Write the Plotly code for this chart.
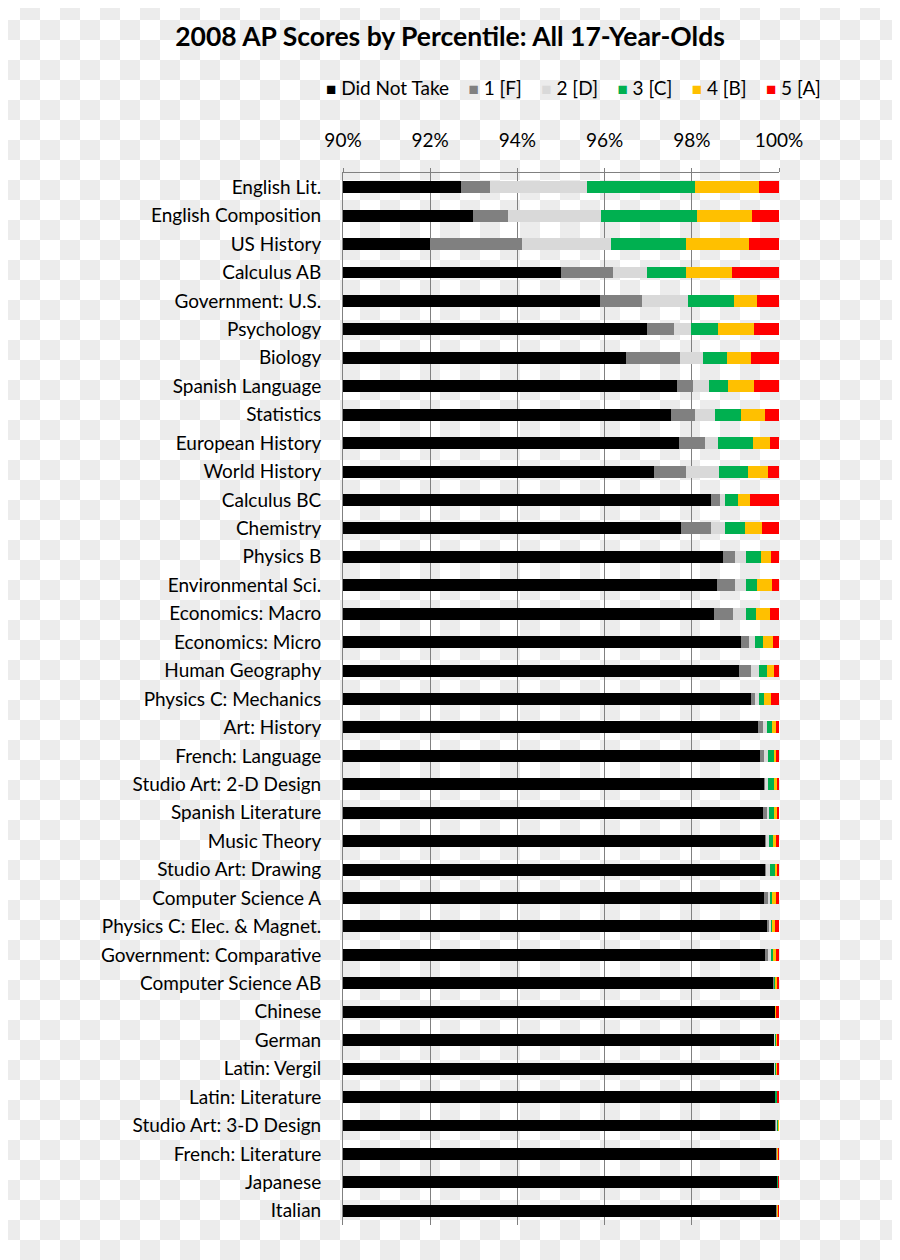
import base64
import plotly.graph_objects as go

subjects = ["English Lit.", "English Composition", "US History", "Calculus AB", "Government: U.S.",
            "Psychology", "Biology", "Spanish Language", "Statistics", "European History",
            "World History", "Calculus BC", "Chemistry", "Physics B", "Environmental Sci.",
            "Economics: Macro", "Economics: Micro", "Human Geography", "Physics C: Mechanics",
            "Art: History", "French: Language", "Studio Art: 2-D Design", "Spanish Literature",
            "Music Theory", "Studio Art: Drawing", "Computer Science A",
            "Physics C: Elec. & Magnet.", "Government: Comparative", "Computer Science AB",
            "Chinese", "German", "Latin: Vergil", "Latin: Literature", "Studio Art: 3-D Design",
            "French: Literature", "Japanese", "Italian"]

did_not_take = [92.70, 92.98, 91.99, 95.00, 95.90, 96.98, 96.49, 97.66, 97.53, 97.71,
                97.14, 98.45, 97.76, 98.72, 98.58, 98.51, 99.13, 99.09, 99.36,
                99.52, 99.57, 99.66, 99.63, 99.68, 99.68, 99.66,
                99.73, 99.68, 99.88, 99.91, 99.89, 99.89, 99.91, 99.93,
                99.95, 99.97, 99.95]
score_1 = [0.67, 0.80, 2.11, 1.19, 0.96, 0.62, 1.24, 0.37, 0.55, 0.60,
           0.73, 0.20, 0.69, 0.28, 0.42, 0.44, 0.19, 0.27, 0.09,
           0.11, 0.09, 0.01, 0.10, 0.03, 0.02, 0.11,
           0.04, 0.07, 0.01, 0.005, 0.01, 0.01, 0.005, 0.02,
           0.005, 0.002, 0.005]
score_2 = [2.23, 2.14, 2.05, 0.79, 1.06, 0.39, 0.53, 0.37, 0.46, 0.30,
           0.76, 0.12, 0.32, 0.25, 0.25, 0.30, 0.13, 0.18, 0.09,
           0.10, 0.09, 0.08, 0.04, 0.06, 0.09, 0.02,
           0.05, 0.07, 0.01, 0.005, 0.02, 0.02, 0.01, 0.01,
           0.005, 0.002, 0.005]
score_3 = [2.48, 2.20, 1.72, 0.89, 1.05, 0.62, 0.55, 0.44, 0.59, 0.80,
           0.67, 0.30, 0.46, 0.34, 0.25, 0.23, 0.18, 0.19, 0.12,
           0.11, 0.14, 0.14, 0.12, 0.09, 0.12, 0.05,
           0.02, 0.04, 0.03, 0.01, 0.03, 0.03, 0.03, 0.02,
           0.01, 0.003, 0.01]
score_4 = [1.45, 1.27, 1.45, 1.06, 0.53, 0.82, 0.55, 0.59, 0.56, 0.39,
           0.45, 0.27, 0.39, 0.23, 0.35, 0.32, 0.23, 0.16, 0.16,
           0.09, 0.04, 0.06, 0.06, 0.07, 0.04, 0.09,
           0.07, 0.07, 0.04, 0.01, 0.02, 0.02, 0.02, 0.02,
           0.01, 0.003, 0.02]
score_5 = [0.47, 0.61, 0.68, 1.07, 0.50, 0.57, 0.64, 0.57, 0.31, 0.20,
           0.25, 0.66, 0.38, 0.18, 0.15, 0.20, 0.14, 0.11, 0.18,
           0.07, 0.07, 0.05, 0.05, 0.07, 0.05, 0.07,
           0.09, 0.07, 0.03, 0.06, 0.03, 0.03, 0.025, 0.02,
           0.02, 0.02, 0.02]

series_names = ["Did Not Take", "1 [F]", "2 [D]", "3 [C]", "4 [B]", "5 [A]"]
series_values = [did_not_take, score_1, score_2, score_3, score_4, score_5]
series_colors = ["#000000", "#808080", "#d9d9d9", "#00b050", "#ffc000", "#ff0000"]

tick_vals = [90, 92, 94, 96, 98, 100]
tick_text = ["90%", "92%", "94%", "96%", "98%", "100%"]

FONT = "Lato"
OFF = 8  # browser body margin
W, H = 900 - OFF, 1260 - OFF
ml, mr, mt, mb = 343 - OFF, 121, 173 - OFF, 35
pw, ph = W - ml - mr, H - mt - mb

fig = go.Figure()
for name, vals, color in zip(series_names, series_values, series_colors):
    fig.add_trace(go.Bar(
        y=subjects, x=vals, name=name, orientation="h",
        marker=dict(color=color, line=dict(width=0)),
        width=0.42, showlegend=False,
    ))

# legend row as text, built from the series names/colours
sep = "&nbsp;" * 4
legend_text = sep.join(
    f"<span style='font-size:17px;fill:{c}'>■</span>&nbsp;{n}"
    for n, c in zip(series_names, series_colors)
)

# checkerboard background (transparency pattern of the original image)
svg = (f"<svg xmlns='http://www.w3.org/2000/svg' width='{W}' height='{H}'>"
       f"<defs><pattern id='p' x='{-OFF}' y='{-OFF}' width='40' height='40' patternUnits='userSpaceOnUse'>"
       "<rect width='40' height='40' fill='#ffffff'/>"
       "<rect x='20' y='0' width='20' height='20' fill='#ececec'/>"
       "<rect x='0' y='20' width='20' height='20' fill='#ececec'/>"
       f"</pattern></defs><rect width='{W}' height='{H}' fill='url(#p)'/></svg>")
src = "data:image/svg+xml;base64," + base64.b64encode(svg.encode()).decode()

fig.update_layout(
    width=W, height=H,
    margin=dict(l=ml, r=mr, t=mt, b=mb, autoexpand=False),
    barmode="stack",
    paper_bgcolor="white",
    plot_bgcolor="rgba(0,0,0,0)",
    font=dict(family=FONT, size=19, color="#000000"),
    title=dict(text="<b>2008 AP Scores by Percentile: All 17-Year-Olds</b>",
               x=(450 - OFF) / W, xanchor="center", xref="container",
               y=1 - (37 - OFF) / H, yanchor="middle",
               yref="container", font=dict(family=FONT, size=26.5, color="#000000")),
    annotations=[dict(text=legend_text, xref="paper", yref="paper",
                      x=(573 - 343) / pw, y=1 + (173 - 87) / ph,
                      xanchor="center", yanchor="middle", showarrow=False,
                      font=dict(family=FONT, size=19, color="#000000"))],
    xaxis=dict(range=[90, 100], side="top", tickvals=tick_vals, ticktext=tick_text,
               showgrid=True, gridcolor="#808080", gridwidth=1,
               showline=True, linecolor="#808080", linewidth=1,
               ticks="outside", ticklen=4, tickcolor="#808080",
               ticklabelstandoff=13,
               zeroline=False, tickfont=dict(size=19)),
    yaxis=dict(categoryorder="array", categoryarray=subjects, autorange="reversed",
               showline=True, linecolor="#808080", linewidth=1,
               showgrid=False, ticks="", ticklabelstandoff=17,
               tickfont=dict(size=19)),
    images=[dict(source=src, xref="paper", yref="paper",
                 x=-ml / pw, y=1 + mt / ph, sizex=W / pw, sizey=H / ph,
                 xanchor="left", yanchor="top", sizing="stretch", layer="below")],
)

fig.write_html("out.html")
